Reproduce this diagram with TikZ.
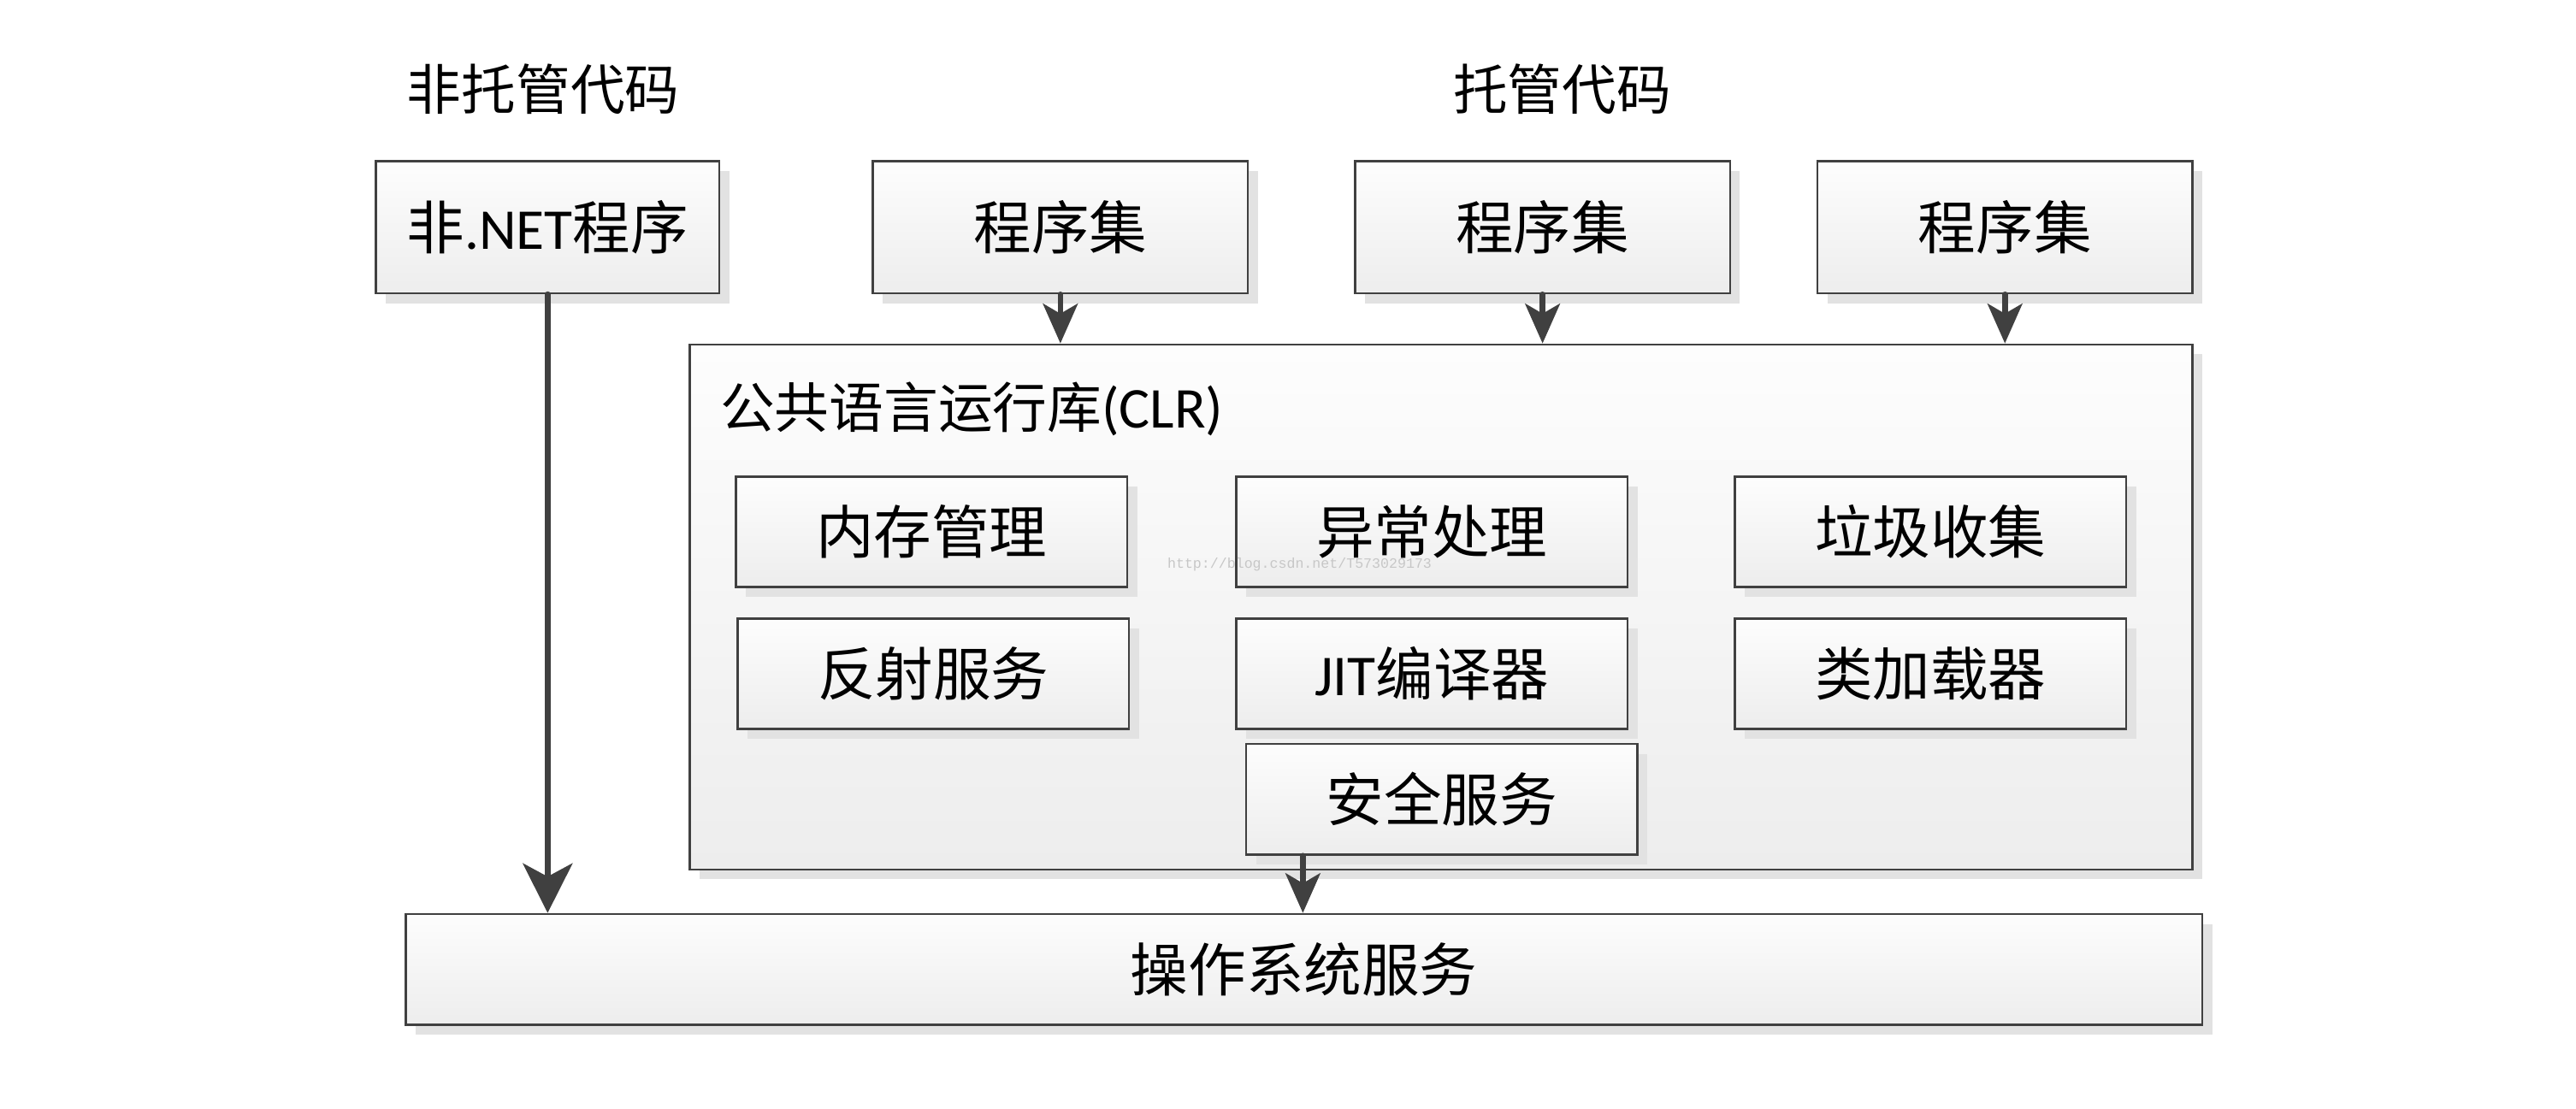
\documentclass[tikz,border=0pt]{standalone}
\usepackage{fontspec}
\setmainfont{Carlito}
\newfontfamily\cjk{Noto Sans CJK SC}
\newfontfamily\wm{Liberation Mono}
\usetikzlibrary{arrows.meta,shadows}
\definecolor{edge}{HTML}{404040}
\definecolor{shadecol}{HTML}{E2E2E2}
\definecolor{topc}{HTML}{FDFDFD}
\definecolor{botc}{HTML}{EDEDED}
\definecolor{arrowcol}{HTML}{404040}
\begin{document}
\begin{tikzpicture}[x=1pt,y=1pt,
  box/.style={draw=edge, line width=1.3pt, top color=topc, bottom color=botc,
    anchor=north west, inner sep=0pt, align=center,
    font=\fontsize{35}{40}\selectfont,
    drop shadow={shadow xshift=6pt, shadow yshift=-6pt, fill=shadecol, opacity=1, draw=none}},
  topbox/.style={box, minimum width=227pt, minimum height=80pt},
  inbox/.style={box, minimum width=237pt, minimum height=67pt},
  title/.style={font=\cjk\fontsize{33}{40}\selectfont, inner sep=0pt},
  bigarr/.style={draw=arrowcol, line width=3.6pt, line cap=round,
    -{Stealth[length=30pt, width=30pt, inset=8pt]}, color=arrowcol},
  smallarr/.style={draw=arrowcol, line width=3.4pt, line cap=round,
    -{Stealth[length=24pt, width=21pt, inset=6pt]}, color=arrowcol}
]
\useasboundingbox (0,0) rectangle (1560,-671.75);

% titles
\node[title] (t1) at (329,-54) {非托管代码};
\node[title] (t2) at (946,-54) {托管代码};

% top row
\node[box, minimum width=208pt, minimum height=80pt] (nonnet) at (227,-97) {{\cjk 非}.NET{\cjk 程序}};
\node[topbox] (asm1) at (528,-97) {\cjk 程序集};
\node[topbox] (asm2) at (820,-97) {\cjk 程序集};
\node[topbox] (asm3) at (1100,-97) {\cjk 程序集};

% CLR container
\node[box, minimum width=910pt, minimum height=318pt] (clr) at (417,-208) {};
\node[title, anchor=west] (clrt) at (436,-248) {公共语言运行库{\rmfamily\fontsize{35}{40}\selectfont(CLR)}};

% inner components
\node[inbox] (mem) at (445,-288) {\cjk 内存管理};
\node[inbox] (exc) at (748,-288) {\cjk 异常处理};
\node[inbox] (gc) at (1050,-288) {\cjk 垃圾收集};
\node[inbox] (refl) at (446,-374) {\cjk 反射服务};
\node[inbox] (jit) at (748,-374) {JIT{\cjk 编译器}};
\node[inbox] (cls) at (1050,-374) {\cjk 类加载器};
\node[inbox] (sec) at (754,-450) {\cjk 安全服务};

% OS
\node[box, minimum width=1088pt, minimum height=67pt] (os) at (245,-553) {\cjk 操作系统服务};

% watermark
\node[font=\wm\fontsize{8.6}{10}\selectfont, text=black!22, inner sep=0pt] (wmk) at (787,-342) {http://blog.csdn.net/T573029173};

% connectors
\coordinate (secx) at (789,0);
\draw[bigarr] (nonnet.south) -- (nonnet.south |- os.north);
\draw[smallarr] (asm1.south) -- (asm1.south |- clr.north);
\draw[smallarr] (asm2.south) -- (asm2.south |- clr.north);
\draw[smallarr] (asm3.south) -- (asm3.south |- clr.north);
\draw[smallarr] (sec.south -| secx) -- (os.north -| secx);
\end{tikzpicture}
\end{document}
